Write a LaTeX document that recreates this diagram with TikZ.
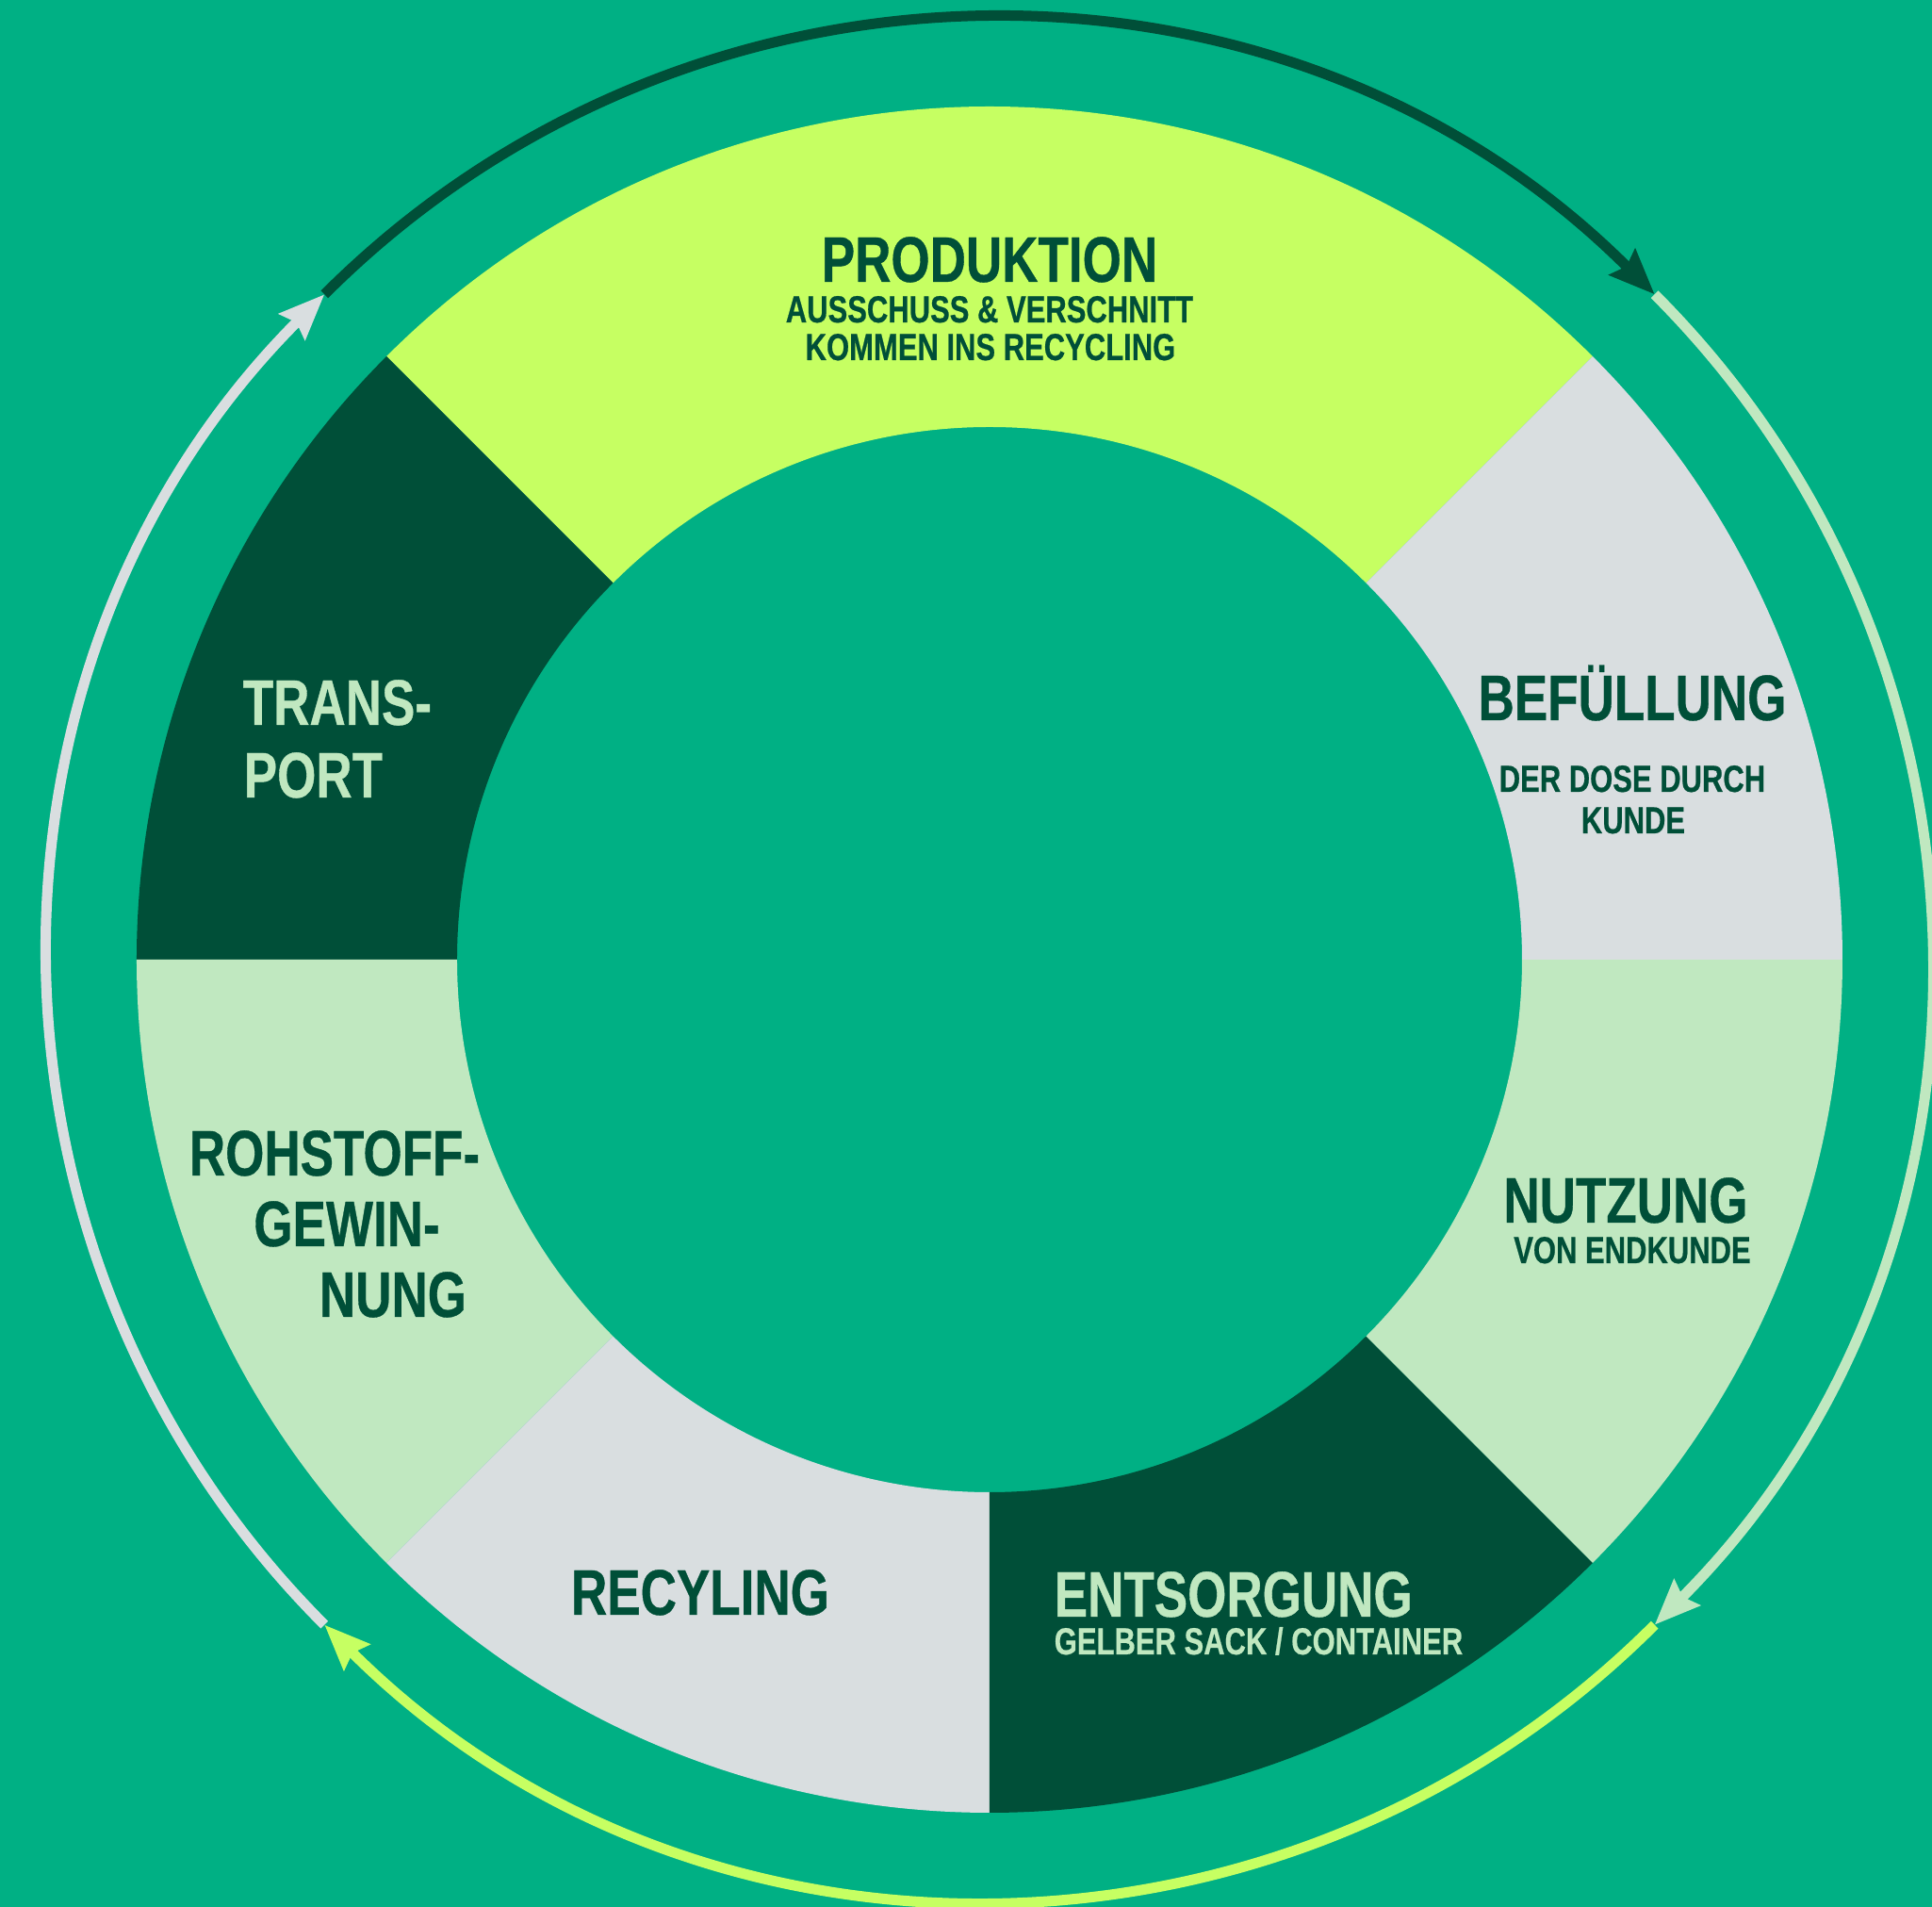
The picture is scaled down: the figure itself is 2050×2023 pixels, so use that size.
\documentclass[tikz,border=0pt]{standalone}
\usepackage{fontspec}
\setmainfont{Liberation Sans}[FakeStretch=0.775, BoldFeatures={FakeBold=0.5}]
\usetikzlibrary{arrows.meta}
\definecolor{bggreen}{HTML}{00B084}
\definecolor{cyclelime}{HTML}{C6FF62}
\definecolor{darkgreen}{HTML}{004F38}
\definecolor{palegray}{HTML}{D9DEE0}
\definecolor{palegreen}{HTML}{C0E8C0}
% one piece of the ring: colour, from angle, to angle
\newcommand\RingPart[3]{
  \fill[#1] (#2:905) arc[start angle=#2, end angle=#3, radius=905]
    -- (#3:565) arc[start angle=#3, end angle=#2, radius=565] -- cycle;
}
\begin{document}
\begin{tikzpicture}[x=0.25pt, y=0.25pt,
  title/.style={font=\fontsize{17.1}{19}\selectfont\bfseries, inner sep=0pt},
  sub/.style={font=\fontsize{10}{12}\selectfont\bfseries, inner sep=0pt},
  onlight/.style={text=darkgreen},
  ondark/.style={text=palegreen},
  flow/.style={line width=2.75pt, -{Stealth[length=12pt, width=9.5pt, inset=1.5pt]}}]
\fill[bggreen] (-1050,-1005) rectangle (1000,1018);
\useasboundingbox (-1050,-1005) rectangle (1000,1018);

% ring
\RingPart{cyclelime}{45}{135}
\RingPart{darkgreen}{135}{180}
\RingPart{palegreen}{180}{225}
\RingPart{palegray}{225}{270}
\RingPart{darkgreen}{270}{315}
\RingPart{palegreen}{315}{360}
\RingPart{palegray}{0}{45}

% outer cycle
\coordinate (nw) at (135:998);
\coordinate (ne) at (45:998);
\coordinate (se) at (-45:998);
\coordinate (sw) at (-135:998);
\draw[flow, darkgreen] (nw) arc[start angle=135, end angle=45, radius=998];
\draw[flow, palegreen] (ne) arc[start angle=45, end angle=-45, radius=998];
\draw[flow, cyclelime] (se) arc[start angle=-45, end angle=-135, radius=998];
\draw[flow, palegray] (sw) arc[start angle=-135, end angle=-225, radius=998];

% labels
\node[title, onlight, anchor=base] (prod) at (0,719) {PRODUKTION};
\node[sub, onlight, anchor=base] (prod1) at (0,676) {AUSSCHUSS \& VERSCHNITT};
\node[sub, onlight, anchor=base] (prod2) at (1,636) {KOMMEN INS RECYCLING};

\node[title, onlight, anchor=base] (fill) at (682,254) {BEFÜLLUNG};
\node[sub, onlight, anchor=base] (fill1) at (682,178) {DER DOSE DURCH};
\node[sub, onlight, anchor=base] (fill2) at (683,134) {KUNDE};

\node[title, onlight, anchor=base] (use) at (675,-279) {NUTZUNG};
\node[sub, onlight, anchor=base] (use1) at (682,-322) {VON ENDKUNDE};

\node[title, ondark, anchor=base west] (disp) at (68,-697) {ENTSORGUNG};
\node[sub, ondark, anchor=base west] (disp1) at (68,-737) {GELBER SACK / CONTAINER};

\node[title, onlight, anchor=base] (recy) at (-307,-695) {RECYLING};

\node[title, onlight, anchor=base] (raw1) at (-695,-229) {ROHSTOFF-};
\node[title, onlight, anchor=base] (raw2) at (-682,-304) {GEWIN-};
\node[title, onlight, anchor=base] (raw3) at (-633,-379) {NUNG};

\node[title, ondark, anchor=base west] (trans1) at (-793,249) {TRANS-};
\node[title, ondark, anchor=base west] (trans2) at (-792,172) {PORT};
\end{tikzpicture}
\end{document}
